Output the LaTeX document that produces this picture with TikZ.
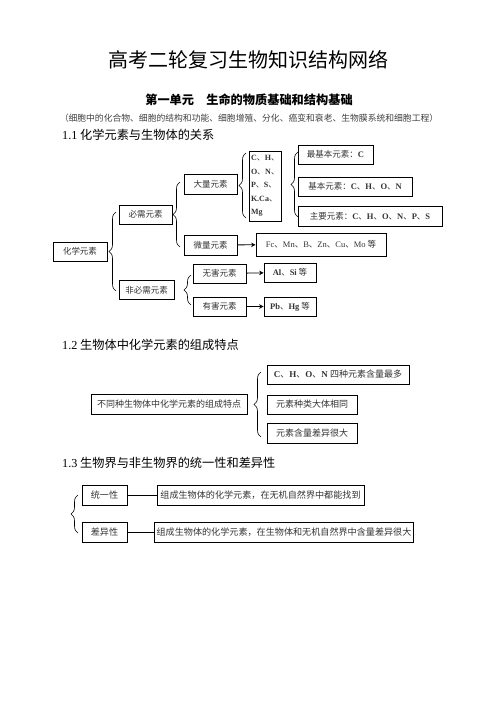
\documentclass[tikz,border=0pt]{standalone}
\usepackage{fontspec}
\setmainfont{Liberation Serif}
\newfontfamily\cjk{Noto Sans CJK SC}
\usetikzlibrary{arrows.meta,decorations.pathreplacing}
\newcommand{\latn}[1]{{\rmfamily\bfseries #1}}

\begin{document}
\begin{tikzpicture}[x=1pt,y=-1pt]
    \tikzstyle{box}=[rectangle,draw,line width=0.8pt,inner sep=2pt,text=black!80,font=\cjk\fontsize{8.5}{10}\selectfont]
    \tikzstyle{bigbox}=[box,font=\cjk\fontsize{9}{11}\selectfont]
    \tikzstyle{longbox}=[box,font=\cjk\fontsize{9.1}{11}\selectfont]
    \tikzstyle{brc}=[decorate,decoration={brace,amplitude=7pt},line width=0.6pt]
    \tikzstyle{link}=[line width=0.8pt,-{Stealth[length=4.5pt,width=4.5pt]}]
    \tikzstyle{heading}=[anchor=west,inner sep=0pt,font=\cjk\fontsize{12.2}{14}\selectfont]
    \useasboundingbox (0,0) rectangle (496,702);
    \node (title)    at (248,60)  [font=\cjk\fontsize{20}{22}\selectfont] {高考二轮复习生物知识结构网络};
    \node (unit)     at (249,100) [font=\cjk\bfseries\fontsize{12.2}{14}\selectfont] {第一单元\hspace{1em}生命的物质基础和结构基础};
    \node (contents) at (249,118) [font=\cjk\fontsize{8.8}{10}\selectfont,text=black!75] {（细胞中的化合物、细胞的结构和功能、细胞增殖、分化、癌变和衰老、生物膜系统和细胞工程）};
    \node (head1) at (62,135) [heading] {{\rmfamily 1.1} 化学元素与生物体的关系};
    \node (head2) at (62,345) [heading] {{\rmfamily 1.2} 生物体中化学元素的组成特点};
    \node (head3) at (62,463) [heading] {{\rmfamily 1.3} 生物界与非生物界的统一性和差异性};
    \node (huaxue)   at (80,251.5)  [box,minimum width=54,minimum height=19] {化学元素};
    \node (bixu)     at (145.5,214.5) [box,minimum width=53,minimum height=19] {必需元素};
    \node (feibixu)  at (146.5,290) [box,minimum width=55,minimum height=19] {非必需元素};
    \node (daliang)  at (210.5,184) [box,minimum width=53,minimum height=20] {大量元素};
    \node (weiliang) at (210.5,245) [box,minimum width=53,minimum height=20] {微量元素};
    \node (chon)     at (265,186)   [box,minimum width=32,minimum height=70,align=left,font=\cjk\fontsize{8}{13.6}\selectfont]
        {\latn{C}、\latn{H}、\\\latn{O}、\latn{N}、\\\latn{P}、\latn{S}、\\\latn{K.Ca}、\\\latn{Mg}};
    \node (zuijiben) at (335.5,154.5) [box,minimum width=75,minimum height=19] {最基本元素：\latn{C}};
    \node (jiben)    at (355,186.5) [box,minimum width=114,minimum height=19] {基本元素：\latn{C}、\latn{H}、\latn{O}、\latn{N}};
    \node (zhuyao)   at (370,216)   [box,minimum width=144,minimum height=20] {主要元素：\latn{C}、\latn{H}、\latn{O}、\latn{N}、\latn{P}、\latn{S}};
    \node (trace)    at (321,244.5) [box,minimum width=130,minimum height=23] {{\rmfamily Fc}、{\rmfamily Mn}、{\rmfamily B}、{\rmfamily Zn}、{\rmfamily Cu}、{\rmfamily Mo} 等};
    \node (wuhai)    at (219.5,273.5) [box,minimum width=53,minimum height=19] {无害元素};
    \node (youhai)   at (219.5,306.5) [box,minimum width=53,minimum height=19] {有害元素};
    \node (alsi)     at (290,272.5) [box,minimum width=52,minimum height=19] {\latn{Al}、\latn{Si} 等};
    \node (pbhg)     at (290,306.5) [box,minimum width=52,minimum height=19] {\latn{Pb}、\latn{Hg} 等};
    \draw [brc] (116,291) -- (116,212);
    \draw [brc] (180,247) -- (180,182);
    \draw [brc] (191,305) -- (191,275);
    \draw [brc] (246,218) -- (246,153);
    \draw [brc] (298,217) -- (298,152);
    \draw [link] (weiliang) -- (trace);
    \draw [link] (wuhai) -- (alsi);
    \draw [link] (youhai) -- (pbhg);
    \node (tezheng)  at (169,404)   [bigbox,minimum width=156,minimum height=20] {不同种生物体中化学元素的组成特点};
    \node (zuiduo)   at (338,374.5) [bigbox,minimum width=142,minimum height=19] {\latn{C}、\latn{H}、\latn{O}、\latn{N} 四种元素含量最多};
    \node (zhonglei) at (312,404.5) [bigbox,minimum width=90,minimum height=19] {元素种类大体相同};
    \node (chayida)  at (312,433)   [bigbox,minimum width=90,minimum height=20] {元素含量差异很大};
    \draw [brc] (261,437) -- (261,372);
    \node (tongyi)   at (104.5,495) [longbox,minimum width=45,minimum height=20] {统一性};
    \node (chayi)    at (104.5,532) [longbox,minimum width=45,minimum height=20] {差异性};
    \node (tongyiR)  at (260.5,495) [longbox,minimum width=207,minimum height=20] {组成生物体的化学元素，在无机自然界中都能找到};
    \node (chayiR)   at (284,532)   [longbox,minimum width=254,minimum height=20] {组成生物体的化学元素，在生物体和无机自然界中含量差异很大};
    \draw [brc] (78,533) -- (78,495);
    \draw [line width=0.8pt] (tongyi) -- (tongyiR);
    \draw [line width=0.8pt] (chayi) -- (chayiR);
\end{tikzpicture}
\end{document}
